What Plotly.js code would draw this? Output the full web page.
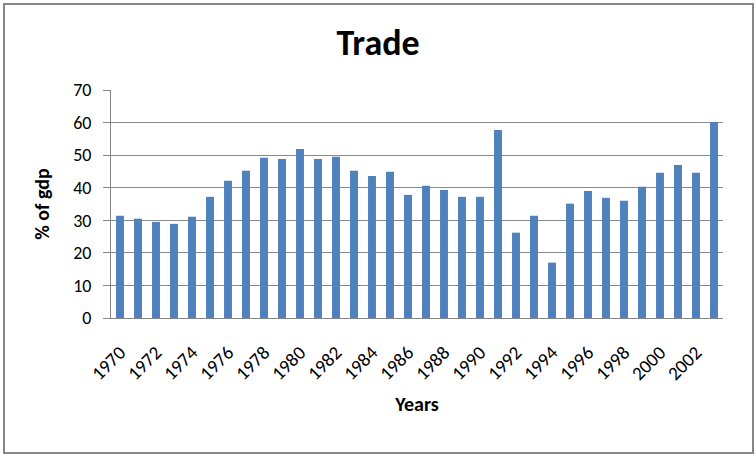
<!DOCTYPE html>
<html>
<head>
<meta charset="utf-8">
<script src="https://cdn.plot.ly/plotly-3.0.1.min.js"></script>
<style>
  html, body { margin: 0; padding: 0; background: #fff; }
  #wrap { position: relative; width: 756px; height: 456px; }
  #chart { width: 756px; height: 456px; }
  #frame { position: absolute; left: 3px; top: 3px; width: 751px; height: 451px;
           border: 2px solid #868686; pointer-events: none; box-sizing: border-box; }
</style>
</head>
<body>
<div id="wrap"><div id="chart"></div><div id="frame"></div></div>
<script>
const years = [1970,1971,1972,1973,1974,1975,1976,1977,1978,1979,1980,1981,1982,1983,1984,1985,1986,1987,1988,1989,1990,1991,1992,1993,1994,1995,1996,1997,1998,1999,2000,2001,2002,2003];
const tradePctGdp = [31.4,30.5,29.5,28.9,31.1,37.2,42.1,45.2,49.2,48.8,51.9,48.8,49.5,45.2,43.6,44.9,37.8,40.6,39.3,37.2,37.2,57.7,26.2,31.4,17.0,35.1,39.0,36.9,36.0,40.3,44.6,47.0,44.6,60.2];
const tickYears = [1970,1972,1974,1976,1978,1980,1982,1984,1986,1988,1990,1992,1994,1996,1998,2000,2002];
const tickLabels = tickYears.map(String);

const fontFam = 'Carlito, Calibri, "Open Sans", sans-serif';

Plotly.newPlot('chart', [{
  type: 'bar',
  x: years,
  y: tradePctGdp,
  width: 0.44,
  marker: { color: '#4f81bd' },
  hoverinfo: 'x+y'
}], {
  width: 756, height: 456,
  margin: { l: 111, r: 33, t: 90, b: 138 },
  paper_bgcolor: '#fff', plot_bgcolor: '#fff',
  showlegend: false,
  font: { family: fontFam, color: '#000' },
  title: { text: '<b>Trade</b>', font: { size: 36, family: fontFam },
           x: 0.5, xanchor: 'center', y: 0.907, yref: 'container', yanchor: 'middle' },
  xaxis: {
    range: [1969.5, 2003.5],
    tickmode: 'array', tickvals: tickYears, ticktext: tickLabels,
    tickangle: -45, tickfont: { size: 19 },
    ticklabelstandoff: 15,
    showgrid: false, zeroline: false,
    showline: true, linecolor: '#868686', linewidth: 1,
    ticks: '',
    title: { text: '<b>Years</b>', font: { size: 20 }, standoff: 13 }
  },
  yaxis: {
    range: [0, 70], dtick: 10, tickfont: { size: 18 },
    showgrid: true, gridcolor: '#8a8a8a', gridwidth: 1,
    zeroline: false, showline: true, linecolor: '#868686', linewidth: 1,
    ticks: 'outside', ticklen: 7, tickcolor: '#868686',
    ticklabelstandoff: 8,
    title: { text: '<b>% of gdp</b>', font: { size: 20 }, standoff: 18 }
  }
}, { displayModeBar: false, staticPlot: true });
</script>
</body>
</html>
